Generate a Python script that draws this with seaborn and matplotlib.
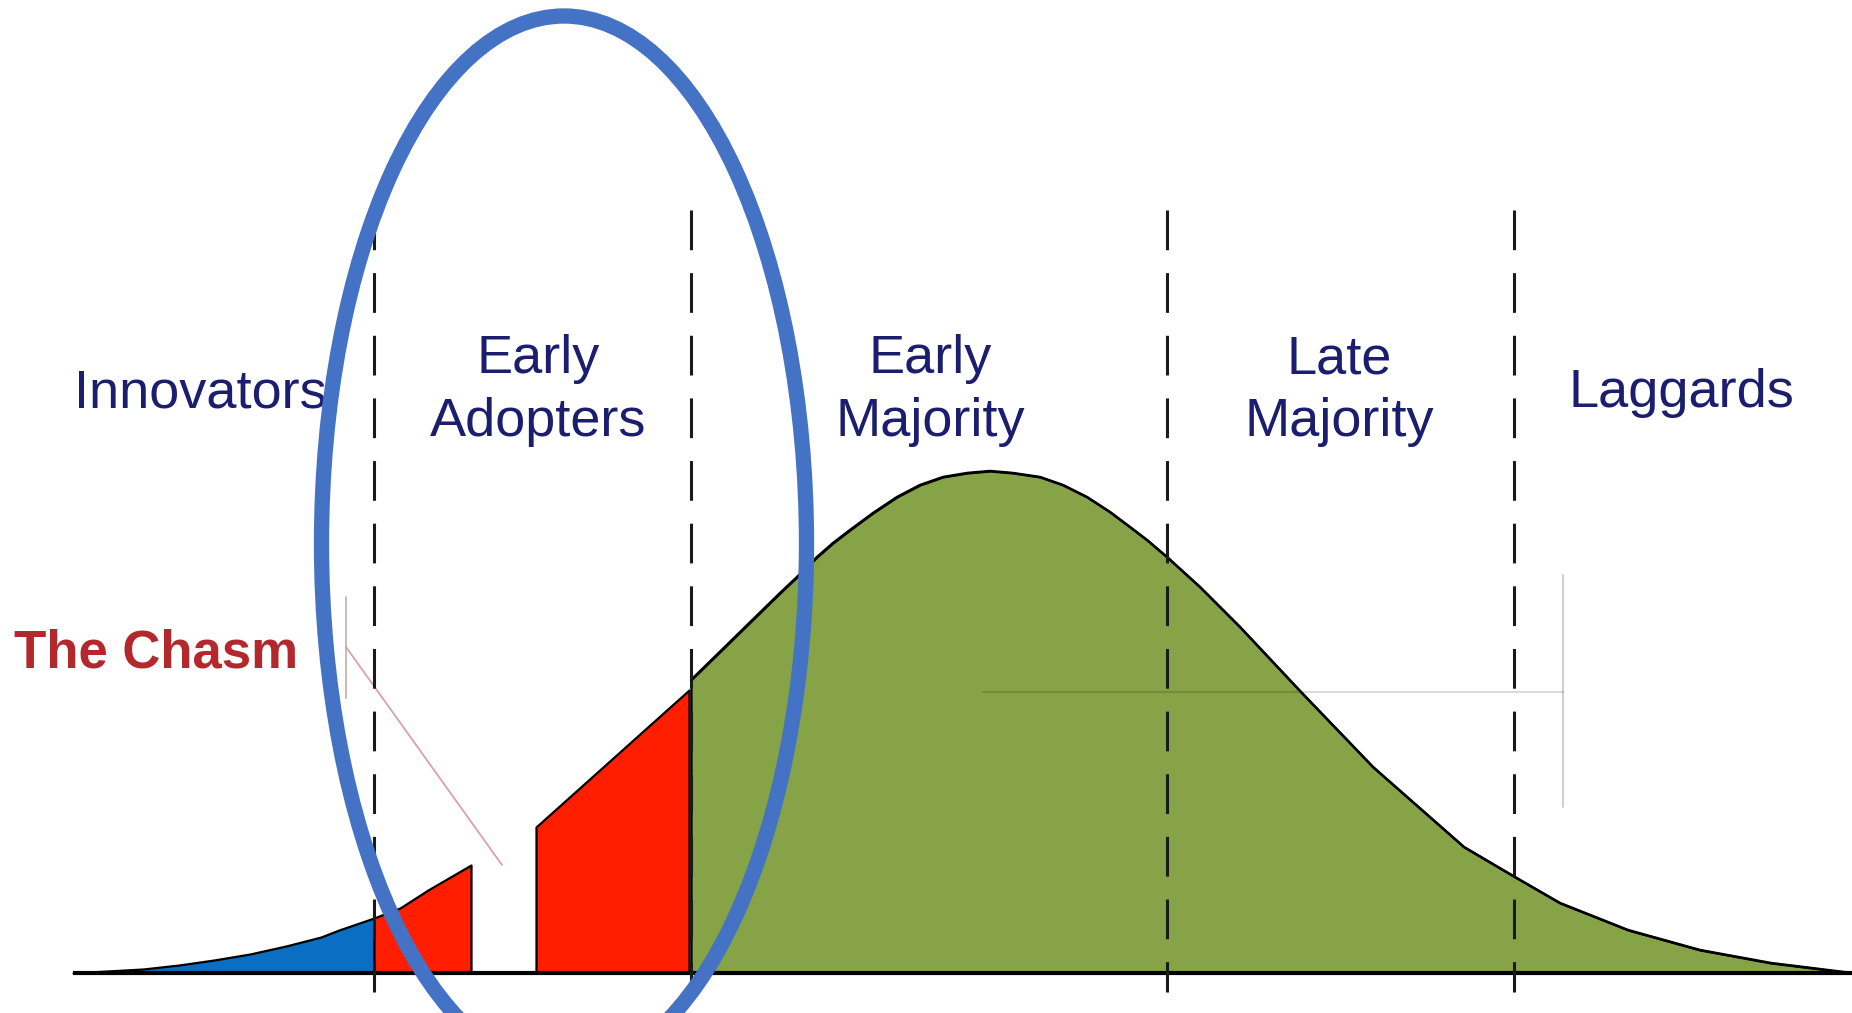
import matplotlib
matplotlib.use("Agg")
import matplotlib.pyplot as plt
from matplotlib.patches import Ellipse
import seaborn as sns

# adoption curve: x position and height above the baseline (px)
innov_x = [73, 107, 143, 179, 214, 250, 286, 321, 339, 374]
innov_h = [0, 2, 4, 8, 13, 19, 27, 36, 43, 55]
early_x = [374, 400, 428, 471]
early_h = [55, 65, 83, 108]
cut_x = [536, 689]          # block on the far side of the chasm
cut_h = [146, 283]
major_x = [691, 780, 797, 817, 833, 850, 873, 897, 920, 943, 967, 990, 1013, 1040,
           1063, 1087, 1110, 1130, 1147, 1167, 1200, 1240, 1301, 1373, 1464, 1515,
           1560, 1628, 1700, 1771, 1852]
major_h = [293, 380, 396, 416, 430, 443, 460, 476, 488, 496, 500, 502, 500, 496,
           488, 476, 461, 446, 433, 416, 386, 346, 281, 206, 126, 96,
           70, 43, 23, 10, 0]

boundaries = [374, 691, 1167, 1514]
groups = ["Innovators", "Early\nAdopters", "Early\nMajority", "Late\nMajority", "Laggards"]

# faint leftover guide lines in the picture
chasm_tick_x, chasm_tick_h = [346, 346], [376, 275]
chasm_pointer_x, chasm_pointer_h = [346, 502], [326, 108]
bracket_x, bracket_h = [983, 1563, 1563, 1563], [281, 281, 398, 166]

sns.set_theme(style="white")
plt.rcParams['font.family'] = ['Liberation Sans', 'DejaVu Sans']

fig = plt.figure(figsize=(18.52, 10.13), dpi=100)
ax = fig.add_axes([0, 0, 1, 1])
ax.set_xlim(0, 1852)
ax.set_ylim(-40, 973)
ax.axis('off')

# filled segments of the bell curve
ax.fill_between(innov_x, innov_h, 0, facecolor='#0a6fc2', edgecolor='black', lw=1.6, zorder=2)
ax.fill_between(early_x, early_h, 0, facecolor='#ff1e00', edgecolor='black', lw=1.6, zorder=2)
ax.fill_between(cut_x, cut_h, 0, facecolor='#ff1e00', edgecolor='black', lw=1.6, zorder=2)
ax.fill_between(major_x, major_h, 0, facecolor='#87a347', edgecolor='black', lw=1.6, zorder=2)
sns.lineplot(x=major_x, y=major_h, color='black', lw=1.8, ax=ax, zorder=3)

# baseline
ax.plot([innov_x[0], 1852], [0, 0], color='black', lw=3, zorder=3, solid_capstyle='butt')

# guide lines
ax.plot(chasm_tick_x, chasm_tick_h, color='#c4b4b4', lw=1.3, zorder=1)
ax.plot(chasm_pointer_x, chasm_pointer_h, color='#d9a3a3', lw=1.3, zorder=1)
ax.plot(bracket_x[:2], bracket_h[:2], color='black', alpha=0.14, lw=1.5, zorder=3)
ax.plot(bracket_x[2:], bracket_h[2:], color='black', alpha=0.18, lw=1.5, zorder=3)

# dashed segment boundaries
for bx in boundaries:
    ax.plot([bx, bx], [763, -19], color='#1a1a1a', lw=2.2, dashes=(13, 7.5), zorder=4)

# segment labels, placed line by line on their baselines
label_x = [200, 538, 930, 1339, 1681]
for name, lx in zip(groups, label_x):
    lines = name.split("\n")
    ys = [566] if len(lines) == 1 else [600, 537]
    for line, ly in zip(lines, ys):
        ax.text(lx, ly, line, ha='center', va='baseline', fontsize=39,
                color='#1b1d6e', zorder=5)

ax.text(14, 306, "The Chasm", ha='left', va='baseline', fontsize=38,
        fontweight='bold', color='#b3282d', zorder=5)

# highlight around the early adopters
ax.add_patch(Ellipse((564, 429.5), 485, 1055, fill=False, edgecolor='#4472c4',
                     lw=11, zorder=6))

fig.savefig("out.png", dpi=100, facecolor='white')
